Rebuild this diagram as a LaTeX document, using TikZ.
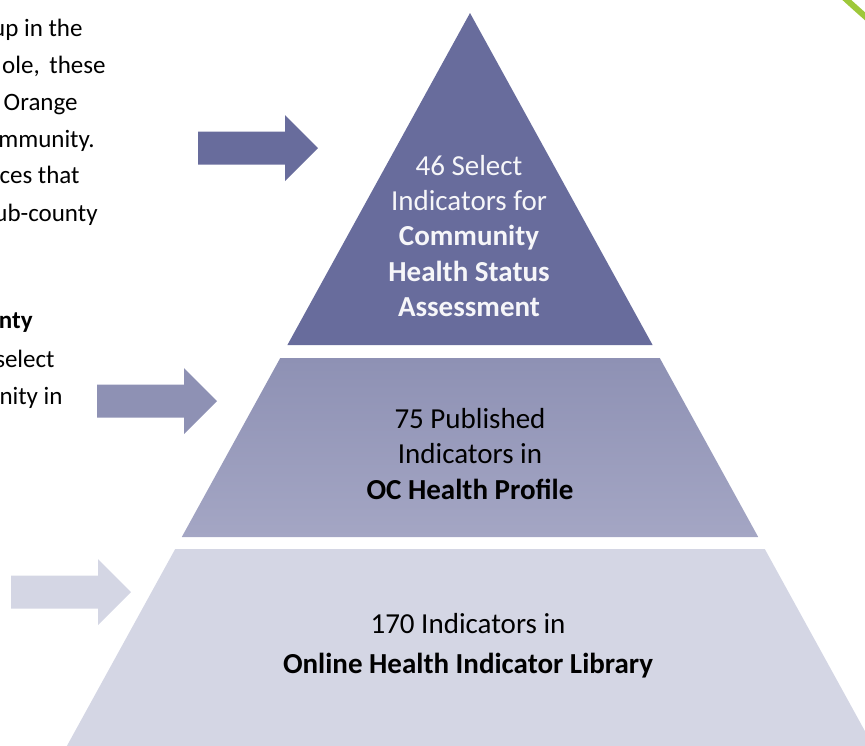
\documentclass[tikz,border=0pt]{standalone}
\usepackage{fontspec}
\setmainfont{Carlito}
\usetikzlibrary{calc}
\definecolor{tierdark}{RGB}{104,108,156}
\definecolor{tiermidtop}{RGB}{142,145,180}
\definecolor{tiermidbot}{RGB}{164,166,196}
\definecolor{tierlight}{RGB}{212,214,228}
\definecolor{leafgreen}{RGB}{158,200,58}

\begin{document}
\begin{tikzpicture}[x=.5pt,y=-.5pt,font=\fontsize{12.5}{18}\selectfont,
  tierlabel/.style={align=center,inner sep=0pt,font=\fontsize{14.5}{17.6}\selectfont},
  sidetext/.style={anchor=base east,inner sep=0pt}]
 \def\ax{470}\def\ay{13}\def\k{0.55}
 \def\hw#1{\k*(#1-\ay)}
 \useasboundingbox (0,0) rectangle (865,745);
 \clip (0,0) rectangle (865,745);
 \coordinate (apex) at (\ax,\ay);
 \fill[tierdark] (apex)--({\ax-\hw{345}},345)--({\ax+\hw{345}},345)--cycle;
 \shade[top color=tiermidtop,bottom color=tiermidbot]
   ({\ax-\hw{358}},358)--({\ax+\hw{358}},358)--({\ax+\hw{537}},537)--({\ax-\hw{537}},537)--cycle;
 \fill[tierlight]
   ({\ax-\hw{549}},549)--({\ax+\hw{549}},549)--({\ax+\hw{760}},760)--({\ax-\hw{760}},760)--cycle;
 \foreach \lx/\cy/\col in {198/148/tierdark,97/401/tiermidtop,11/592/tierlight}
   \fill[\col] (\lx,{\cy-16.5})--++(87,0)--++(0,-16.5)--({\lx+120},\cy)
     --({\lx+87},{\cy+33})--++(0,-16.5)--(\lx,{\cy+16.5})--cycle;
 \node[tierlabel,text=white!94!tierdark] (tierA) at (469,236)
   {46 Select\\Indicators for\\\textbf{Community}\\\textbf{Health Status}\\\textbf{Assessment}};
 \node[tierlabel] (tierB) at (470,454)
   {75 Published\\Indicators in\\\textbf{OC Health Profile}};
 \node[tierlabel,font=\fontsize{14.5}{20}\selectfont] (tierC) at (468,646)
   {170 Indicators in\\\textbf{Online Health Indicator Library}};
 \foreach \t/\xe/\yb [count=\i] in {up in the/83/36.7,{ole,\hspace{2pt} these}/106/73,Orange/78/110,
     mmunity./95/147,ces that/80/183,ub-county/98/221,\textbf{nty}/33/328,
     select/55/367,nity in/63/404}
   \node[sidetext] (side\i) at (\xe,\yb) {\t};
 \draw[leafgreen,line width=3pt] (836,-10) .. controls (850,3) and (860,12) .. (875,25);
\end{tikzpicture}
\end{document}
